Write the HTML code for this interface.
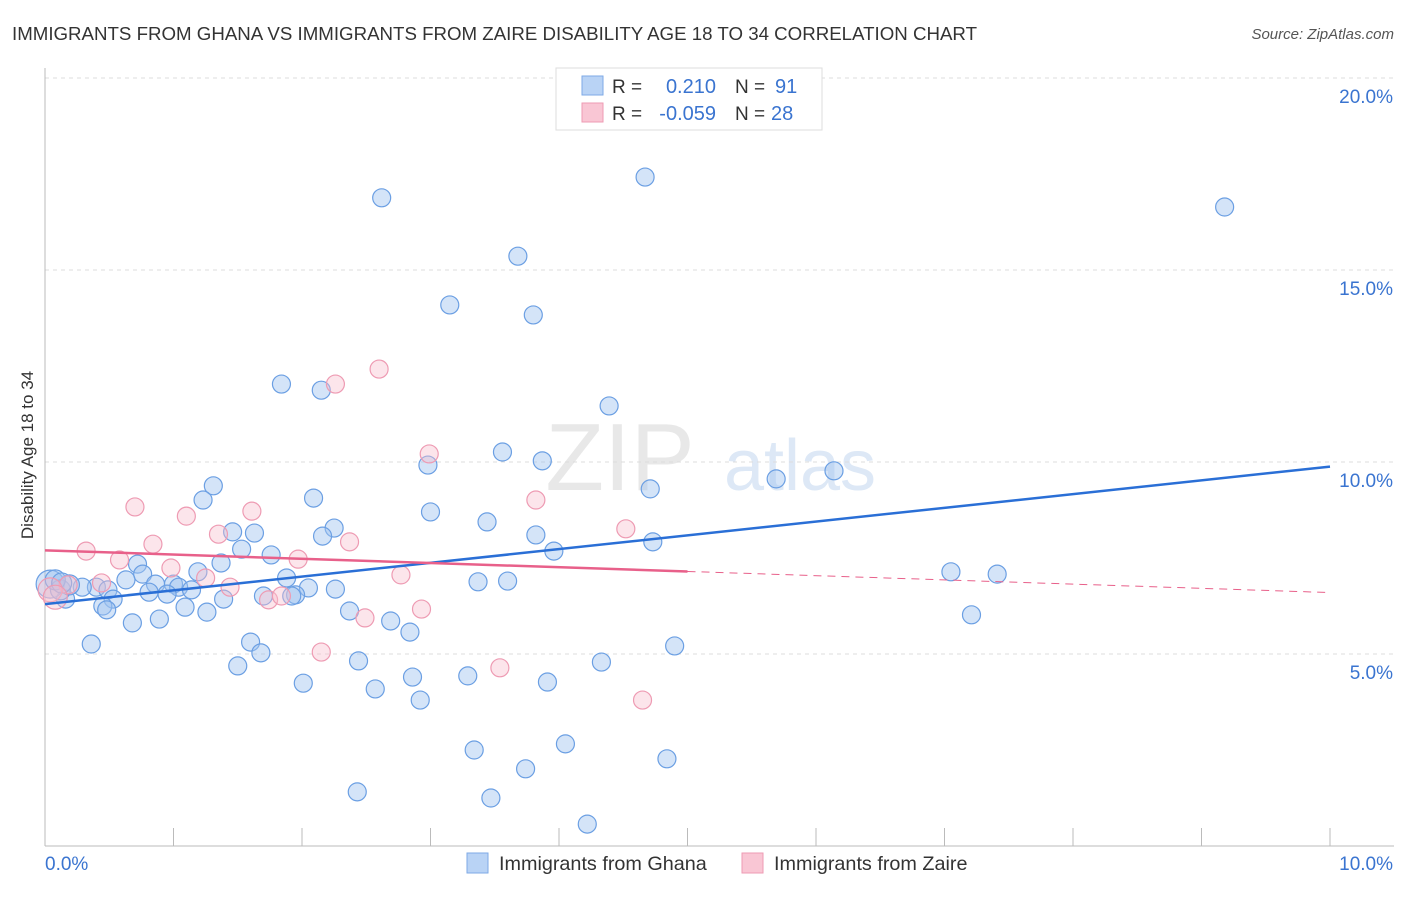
<!DOCTYPE html>
<html><head><meta charset="utf-8"><style>
body{margin:0;background:#fff;font-family:"Liberation Sans",sans-serif}
svg text{font-family:"Liberation Sans",sans-serif}
</style></head><body>
<svg id="chart" width="1406" height="892">
<text x="12" y="40" font-size="18.7" fill="#333">IMMIGRANTS FROM GHANA VS IMMIGRANTS FROM ZAIRE DISABILITY AGE 18 TO 34 CORRELATION CHART</text>
<text x="1394" y="39" font-size="15" fill="#555" font-style="italic" text-anchor="end">Source: ZipAtlas.com</text>
<text x="620" y="490" font-size="96" fill="#e8e8e8" font-family="Liberation Serif" text-anchor="middle">ZIP</text>
<text x="800" y="490" font-size="72" fill="#dde8f6" text-anchor="middle">atlas</text>
<g id="grid"></g><g id="marks"></g>
<text transform="translate(33,455) rotate(-90)" font-size="17" fill="#333" text-anchor="middle">Disability Age 18 to 34</text>
<g>
<rect x="556" y="68" width="266" height="62" fill="#fff" stroke="#ddd"/>
<rect x="582" y="76" width="21" height="19" fill="#b9d3f5" stroke="#7eaae6"/>
<rect x="582" y="103" width="21" height="19" fill="#f9c6d4" stroke="#ee9bb3"/>
<text x="612" y="93" font-size="19" fill="#333">R =</text><text x="716" y="93" font-size="20" fill="#3a74d0" text-anchor="end">0.210</text>
<text x="735" y="93" font-size="19" fill="#333">N =</text><text x="775" y="93" font-size="20" fill="#3a74d0">91</text>
<text x="612" y="120" font-size="19" fill="#333">R =</text><text x="716" y="120" font-size="20" fill="#3a74d0" text-anchor="end">-0.059</text>
<text x="735" y="120" font-size="19" fill="#333">N =</text><text x="771" y="120" font-size="20" fill="#3a74d0">28</text>
</g>
<g>
<rect x="467" y="853" width="21" height="20" fill="#b9d3f5" stroke="#7eaae6"/>
<text x="499" y="870" font-size="19.8" fill="#333">Immigrants from Ghana</text>
<rect x="742" y="853" width="21" height="20" fill="#f9c6d4" stroke="#ee9bb3"/>
<text x="774" y="870" font-size="19.8" fill="#333">Immigrants from Zaire</text>
</g>
</svg>
<script>
const ghanaX=[2.62,4.67,9.18,3.68,3.15,3.80,1.84,2.15,4.39,3.56,3.87,2.98,6.14,5.69,1.31,4.71,1.23,2.09,3.00,3.44,1.46,1.63,2.25,2.16,3.82,4.73,1.53,3.96,1.76,0.72,1.37,0.76,1.19,1.88,0.63,0.86,1.00,1.04,0.40,0.29,0.49,0.53,0.81,1.14,0.95,2.26,2.05,3.37,3.60,7.05,7.41,1.95,1.92,1.70,1.39,0.16,0.45,1.09,0.48,1.26,2.37,0.89,0.68,2.69,2.84,7.21,0.36,1.60,1.68,4.90,1.50,2.44,4.33,2.86,3.29,3.91,2.01,2.57,2.92,3.34,4.05,4.84,3.74,2.43,3.47,4.22,0.04,0.12,0.19,0.08,0.13];
const ghanaY=[16.88,17.42,16.64,15.36,14.09,13.83,12.03,11.87,11.46,10.26,10.03,9.92,9.77,9.56,9.38,9.30,9.01,9.06,8.70,8.44,8.18,8.15,8.28,8.07,8.10,7.92,7.73,7.68,7.58,7.34,7.37,7.08,7.14,6.98,6.93,6.82,6.82,6.74,6.74,6.74,6.67,6.43,6.61,6.67,6.56,6.69,6.72,6.88,6.90,7.14,7.08,6.54,6.51,6.51,6.43,6.43,6.25,6.22,6.15,6.09,6.12,5.91,5.81,5.86,5.57,6.02,5.26,5.31,5.03,5.21,4.69,4.82,4.79,4.40,4.43,4.27,4.24,4.09,3.80,2.50,2.66,2.27,2.01,1.41,1.25,0.57,6.82,6.67,6.80,6.93,6.85];
const zaireX=[0.70,1.10,1.61,1.35,0.84,2.37,0.32,0.58,1.97,0.98,1.25,1.44,0.44,0.18,1.74,1.84,2.77,2.93,2.49,2.26,2.60,2.99,3.82,4.52,2.15,3.54,4.65,0.04,0.08];
const zaireY=[8.83,8.59,8.72,8.12,7.86,7.92,7.68,7.45,7.47,7.24,6.98,6.74,6.85,6.80,6.41,6.51,7.06,6.17,5.94,12.03,12.42,10.21,9.01,8.26,5.05,4.64,3.80,6.67,6.48];
const blueTrend=[6.3,9.88];
const pinkTrend=[7.7,6.6];
const yTicks=[5,10,15,20];
const yTickLabels=["5.0%","10.0%","15.0%","20.0%"];
const NS="http://www.w3.org/2000/svg";
const X=v=>45+v*128.5, Y=v=>846-v*38.4;
function mk(t,a,p){const e=document.createElementNS(NS,t);for(const k in a)e.setAttribute(k,a[k]);p.appendChild(e);return e;}
const grid=document.getElementById('grid'),marks=document.getElementById('marks');
yTicks.forEach((t,i)=>{
 const l=mk('line',{x1:45,x2:1394,y1:Y(t),y2:Y(t),stroke:'#ddd','stroke-dasharray':'4,4'},grid);
 
 
 const tx=mk('text',{x:1393,y:Y(t)+25,'font-size':19,fill:'#3a74d0','text-anchor':'end'},grid);
 tx.textContent=yTickLabels[i];
 
 
});
const ax=mk('line',{x1:45,x2:45,y1:68,y2:846,stroke:'#bbb'},grid);


const bx=mk('line',{x1:45,x2:1394,y1:846,y2:846,stroke:'#bbb'},grid);


for(let i=0;i<=10;i++){const t=mk('line',{x1:X(i),x2:X(i),y1:828,y2:846,stroke:'#bbb'},grid);
 
 }
[["0.0%",45,'start'],["10.0%",1393,'end']].forEach(d=>{const t=mk('text',{x:d[1],y:870,'font-size':19,fill:'#3a74d0','text-anchor':d[2]},grid);t.textContent=d[0];
 
 });
ghanaX.forEach((v,i)=>{const r=i>=86?(i==86?14:10):9;
 const c=mk('circle',{cx:X(v),cy:Y(ghanaY[i]),r:r,fill:'rgba(160,196,240,0.45)',stroke:'#6b9fe3','stroke-width':1.2},marks);
 
 });
zaireX.forEach((v,i)=>{const r=i>=27?12:9;
 const c=mk('circle',{cx:X(v),cy:Y(zaireY[i]),r:r,fill:'rgba(248,190,206,0.4)',stroke:'#ee9bb3','stroke-width':1.2},marks);
 
 });
const bl=mk('line',{x1:X(0),y1:Y(blueTrend[0]),x2:X(10),y2:Y(blueTrend[1]),stroke:'#2a6fd6','stroke-width':2.5},marks);


const pm=v=>pinkTrend[0]+(pinkTrend[1]-pinkTrend[0])*v/10;
const pl=mk('line',{x1:X(0),y1:Y(pm(0)),x2:X(5),y2:Y(pm(5)),stroke:'#e8608a','stroke-width':2.5},marks);


const pd=mk('line',{x1:X(5),y1:Y(pm(5)),x2:X(10),y2:Y(pm(10)),stroke:'#e8608a','stroke-width':1,'stroke-dasharray':'8,6'},marks);


</script>
</body></html>
